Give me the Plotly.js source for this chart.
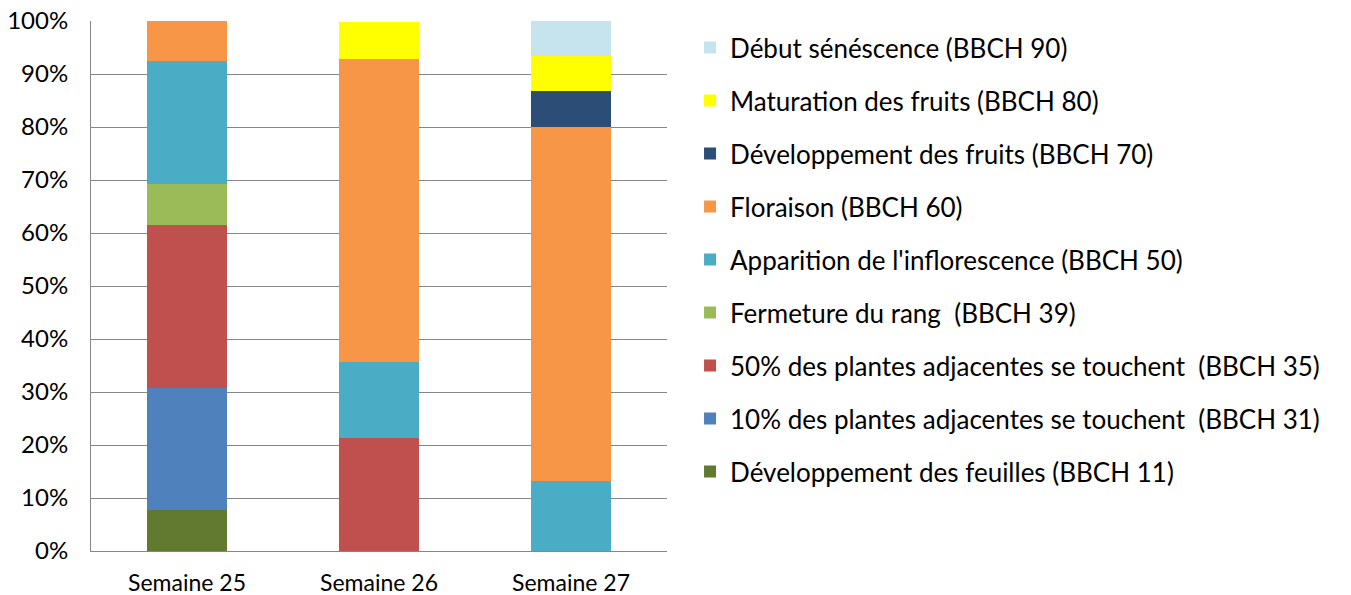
<!DOCTYPE html>
<html>
<head>
<meta charset="utf-8">
<script src="https://cdn.plot.ly/plotly-3.0.1.min.js"></script>
<style>html,body{margin:0;padding:0;background:#fff;}#chart{width:1351px;height:595px;}</style>
</head>
<body>
<div id="chart"></div>
<script>
const weeks = ["Semaine 25", "Semaine 26", "Semaine 27"];
const seriesNames = [
  "Développement des feuilles (BBCH 11)",
  "10% des plantes adjacentes se touchent  (BBCH 31)",
  "50% des plantes adjacentes se touchent  (BBCH 35)",
  "Fermeture du rang  (BBCH 39)",
  "Apparition de l'inflorescence (BBCH 50)",
  "Floraison (BBCH 60)",
  "Développement des fruits (BBCH 70)",
  "Maturation des fruits (BBCH 80)",
  "Début sénéscence (BBCH 90)"
];
const feuilles      = [7.7, 0, 0];
const touchent10    = [23.1, 0, 0];
const touchent50    = [30.8, 21.4, 0];
const fermeture     = [7.7, 0, 0];
const inflorescence = [23.1, 14.3, 13.3];
const floraison     = [7.7, 57.1, 66.7];
const devFruits     = [0, 0, 6.7];
const maturation    = [0, 7.1, 6.7];
const senescence    = [0, 0, 6.7];
const seriesValues = [feuilles, touchent10, touchent50, fermeture, inflorescence, floraison, devFruits, maturation, senescence];
const colors = ["#617A30", "#4F81BD", "#C0504D", "#9BBB59", "#4BACC6", "#F79646", "#2C4D75", "#FFFF00", "#C6E4EE"];

const font = "Lato, 'Open Sans', sans-serif";
const traces = seriesNames.map((n, i) => ({
  type: "bar",
  name: n,
  x: weeks,
  y: seriesValues[i],
  marker: {color: colors[i], line: {width: 0}},
  legendgroup: "g" + i,
  legendrank: 1000 - i,
  hoverinfo: "skip"
}));

const layout = {
  width: 1351, height: 595,
  margin: {l: 91, r: 684, t: 21, b: 44, autoexpand: false},
  barmode: "stack",
  bargap: 0.583,
  paper_bgcolor: "#fff",
  plot_bgcolor: "#fff",
  font: {family: font, color: "#000"},
  xaxis: {
    showgrid: false, showline: true, linecolor: "#868686", linewidth: 1,
    tickfont: {size: 23, family: font}, ticks: "outside", ticklen: 11, tickcolor: "rgba(0,0,0,0)"
  },
  yaxis: {
    range: [0, 100], tickvals: [0,10,20,30,40,50,60,70,80,90,100],
    ticktext: ["0%","10%","20%","30%","40%","50%","60%","70%","80%","90%","100%"],
    showgrid: true, gridcolor: "#868686", gridwidth: 1,
    showline: true, linecolor: "#868686", linewidth: 1,
    zeroline: false, tickfont: {size: 24, family: font}, ticks: "outside", ticklen: 17, tickcolor: "rgba(0,0,0,0)"
  },
  showlegend: true,
  legend: {
    x: 1.04, xanchor: "left", y: 0.994, yanchor: "top",
    traceorder: "grouped", tracegroupgap: 16.2, maxheight: 1,
    font: {size: 26, family: font, color: "#000"},
    bgcolor: "rgba(0,0,0,0)", itemwidth: 30
  }
};
Plotly.newPlot("chart", traces, layout, {staticPlot: true, displayModeBar: false});
</script>
</body>
</html>
